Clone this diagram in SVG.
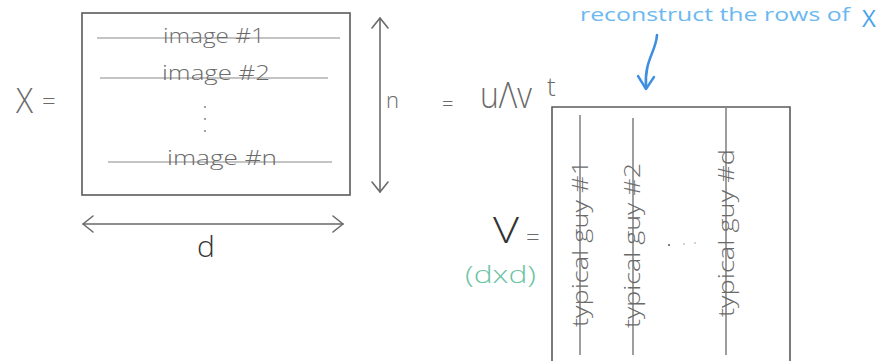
<svg xmlns="http://www.w3.org/2000/svg" width="886" height="361" viewBox="0 0 886 361">
  <defs>
    <style>
      .ink { fill: #6a6a6a; font-family: "Open Sans", "Liberation Sans", sans-serif; font-weight: 300; }
      .dark { fill: #333333; font-family: "Open Sans", "Liberation Sans", sans-serif; font-weight: 300; }
      .blue { fill: #6cb8f0; font-family: "Open Sans", "Liberation Sans", sans-serif; font-weight: 400; }
      .green { fill: #6cc4a4; font-family: "Open Sans", "Liberation Sans", sans-serif; font-weight: 300; }
      .box { fill: none; stroke: #5a5a5a; stroke-width: 1.6; }
      .row { stroke: #8a8a8a; stroke-width: 1.1; fill: none; }
      .col { stroke: #6a6a6a; stroke-width: 1.3; fill: none; }
      .dim { stroke: #6a6a6a; stroke-width: 1.6; fill: none; stroke-linecap: round; stroke-linejoin: round; }
    </style>
  </defs>

  <g id="label-X">
    <text class="ink" x="16" y="113" font-size="34" textLength="17" lengthAdjust="spacingAndGlyphs">X</text>
    <text class="ink" x="42" y="110" font-size="24">=</text>
  </g>

  <g id="matrix-X">
    <rect class="box" x="82" y="13" width="268" height="182"/>
    <line class="row" x1="97" y1="38" x2="340" y2="38"/>
    <text class="ink" x="163" y="43" font-size="20" textLength="102" lengthAdjust="spacingAndGlyphs">image #1</text>
    <line class="row" x1="100" y1="78" x2="328" y2="78"/>
    <text class="ink" x="162" y="80" font-size="20" textLength="108" lengthAdjust="spacingAndGlyphs">image #2</text>
    <circle cx="205" cy="107" r="0.9" fill="#777"/>
    <circle cx="205" cy="119" r="0.9" fill="#777"/>
    <circle cx="205" cy="131" r="0.9" fill="#777"/>
    <line class="row" x1="108" y1="162" x2="332" y2="162"/>
    <text class="ink" x="167" y="165" font-size="20" textLength="110" lengthAdjust="spacingAndGlyphs">image #n</text>
  </g>

  <g id="connectors">
    <g id="dim-n">
      <line class="dim" x1="380" y1="18" x2="380" y2="192"/>
      <polyline class="dim" points="372,28 380,18 388,28"/>
      <polyline class="dim" points="372,182 380,192 388,182"/>
    </g>
    <g id="dim-d">
      <line class="dim" x1="83" y1="224" x2="343" y2="224"/>
      <polyline class="dim" points="93,216 83,224 93,232"/>
      <polyline class="dim" points="333,216 343,224 333,232"/>
    </g>
    <g id="annotation-arrow">
      <path d="M657,35 C656,52 644,60 646,88" fill="none" stroke="#3f8fe0" stroke-width="2.6" stroke-linecap="round"/>
      <polyline points="638,76 646,89 654,77" fill="none" stroke="#3f8fe0" stroke-width="2.4" stroke-linecap="round" stroke-linejoin="round"/>
    </g>
  </g>

  <g id="label-n">
    <text class="ink" x="386" y="108" font-size="22">n</text>
  </g>
  <g id="label-d">
    <text class="dark" x="197" y="257" font-size="30">d</text>
  </g>

  <g id="equation">
    <text class="ink" x="442" y="111" font-size="20">=</text>
    <text class="ink" x="480" y="108" font-size="36" textLength="52" lengthAdjust="spacingAndGlyphs">uΛv</text>
    <text class="ink" x="547" y="96" font-size="26">t</text>
  </g>

  <g id="annotation">
    <text class="blue" x="580" y="21" font-size="18" textLength="270" lengthAdjust="spacingAndGlyphs">reconstruct the rows of</text>
    <text style="fill:#4aa3ea; font-family: 'Open Sans', 'Liberation Sans', sans-serif;" x="862" y="27" font-size="24">X</text>
  </g>

  <g id="label-V">
    <text class="dark" x="493" y="243" font-size="36" textLength="26" lengthAdjust="spacingAndGlyphs">V</text>
    <text class="ink" x="526" y="246" font-size="24">=</text>
    <text class="green" x="465" y="283" font-size="24" textLength="71" lengthAdjust="spacingAndGlyphs">(dxd)</text>
  </g>

  <g id="matrix-V">
    <path class="box" d="M552,361 L552,107 L790,107 L790,361"/>
    <line class="col" x1="580" y1="115" x2="580" y2="355"/>
    <line class="col" x1="633" y1="118" x2="633" y2="355"/>
    <line class="col" x1="726" y1="108" x2="726" y2="355"/>
    <text class="ink" font-size="22" textLength="167" lengthAdjust="spacingAndGlyphs" transform="translate(588,327) rotate(-90)">typical guy #1</text>
    <text class="ink" font-size="22" textLength="165" lengthAdjust="spacingAndGlyphs" transform="translate(640,328) rotate(-90)">typical guy #2</text>
    <text class="ink" font-size="22" textLength="168" lengthAdjust="spacingAndGlyphs" transform="translate(734,317) rotate(-90)">typical guy #d</text>
    <circle cx="669" cy="245" r="1" fill="#555"/>
    <circle cx="684" cy="244" r="0.8" fill="#999"/>
    <circle cx="695" cy="243" r="0.8" fill="#999"/>
  </g>
</svg>
